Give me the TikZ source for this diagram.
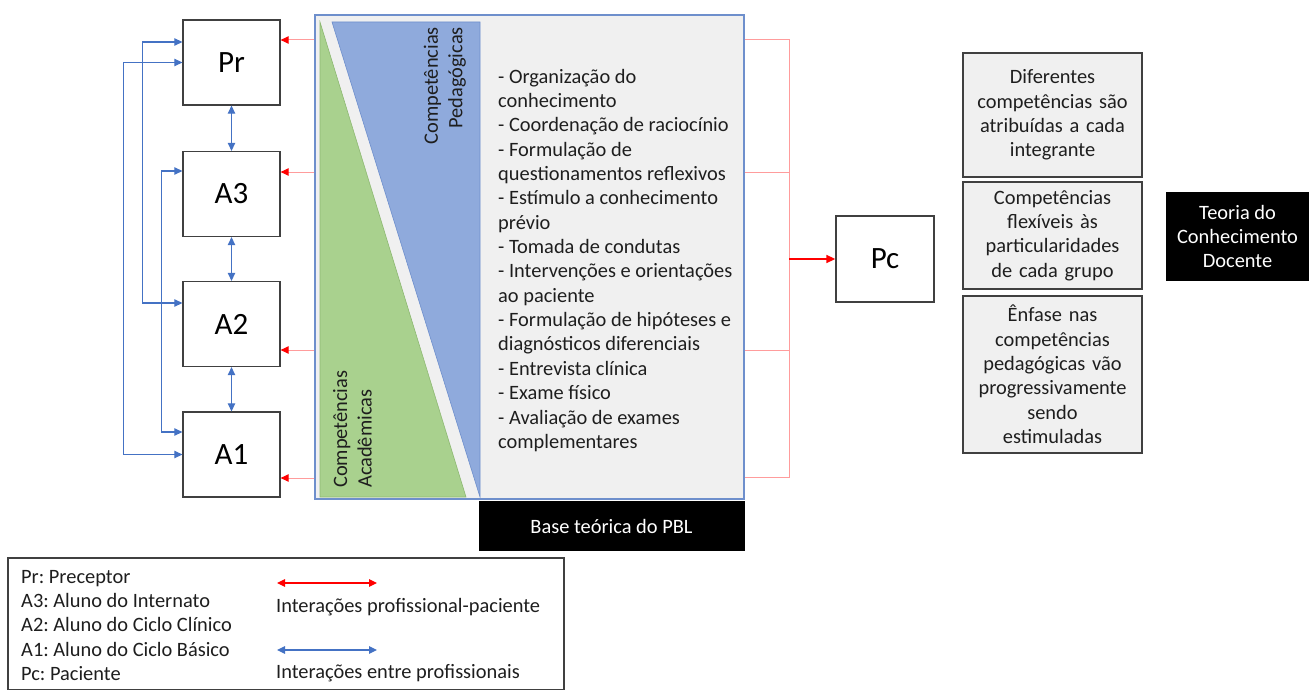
\documentclass[tikz,border=0pt]{standalone}
\usepackage{fontspec}
\setmainfont{Carlito}
\frenchspacing
\usetikzlibrary{arrows.meta}
\definecolor{linkblue}{HTML}{4472C4}
\definecolor{linkred}{HTML}{FF0000}
\definecolor{palered}{HTML}{FF9C9C}
\definecolor{academic}{HTML}{A9D18E}
\definecolor{academicedge}{HTML}{8DB872}
\definecolor{pedagogic}{HTML}{8FAADC}
\definecolor{pedagogicedge}{HTML}{6E8FCC}
\definecolor{panelgray}{HTML}{F0F0F0}
\definecolor{boxedge}{HTML}{404040}
\definecolor{inktext}{HTML}{1E1E1E}
\begin{document}
\begin{tikzpicture}[x=1pt,y=-1pt,
  txt/.style={font=\fontsize{20.4}{24.35}\selectfont, text=inktext},
  actor/.style={draw=boxedge, line width=1.3pt, fill=white, inner sep=0pt,
    minimum width=97pt, minimum height=85pt, font=\fontsize{31}{33}\selectfont, text=black},
  note/.style={txt, draw=boxedge, line width=1.3pt, fill=panelgray, inner sep=0pt,
    minimum width=179pt, text width=174pt, align=center},
  dark/.style={txt, fill=black, text=white, inner sep=0pt, align=center},
  peer/.style={linkblue, line width=1.2pt, {Triangle[length=8pt,width=7.5pt]}-{Triangle[length=8pt,width=7.5pt]}},
  care/.style={palered, line width=1pt, -{Triangle[length=8pt,width=7.5pt,color=linkred]}},
  feed/.style={palered, line width=1pt},
]
\useasboundingbox (0,0) rectangle (1309,690);

% central panel with the two competence wedges
\node[draw=pedagogicedge, line width=1.3pt, fill=panelgray, minimum width=429pt,
  minimum height=484pt, inner sep=0pt] (panel) at (529.5,257) {};
\fill[academic, draw=academicedge, line width=0.6pt] (320,22) -- (320,497) -- (466,497) -- cycle;
\fill[pedagogic, draw=pedagogicedge, line width=0.6pt] (332,22) -- (480,22) -- (480,497) -- cycle;
\node[txt, rotate=90, anchor=south east, align=right, inner sep=0pt] (pedlabel) at (466,27)
  {Competências\\Pedagógicas};
\node[txt, rotate=90, anchor=north west, align=left, inner sep=0pt] (acalabel) at (333,488)
  {Competências\\Acadêmicas};
\node[txt, anchor=north west, align=left, inner sep=0pt] (list) at (498,65.9)
  {\strut- Organização do\\
   conhecimento\\
   - Coordenação de raciocínio\\
   - Formulação de\\
   questionamentos reflexivos\\
   - Estímulo a conhecimento\\
   prévio\\
   - Tomada de condutas\\
   - Intervenções e orientações\\
   ao paciente\\
   - Formulação de hipóteses e\\
   diagnósticos diferenciais\\
   - Entrevista clínica\\
   - Exame físico\\
   - Avaliação de exames\\
   complementares};
\node[dark, minimum width=266pt, minimum height=50pt] (pbl) at (611.5,526) {Base teórica do PBL};

% participants
\node[actor] (Pr) at (231.5,62.5) {Pr};
\node[actor] (A3) at (231.5,194) {A3};
\node[actor] (A2) at (231.5,324) {A2};
\node[actor] (A1) at (231.5,454.5) {A1};
\node[actor, minimum width=98pt, minimum height=86pt] (Pc) at (885,259) {Pc};

% interactions among the group
\draw[peer] (Pr.south) -- (A3.north);
\draw[peer] (A3.south) -- (A2.north);
\draw[peer] (A2.south) -- (A1.north);
\draw[peer] (Pr.west) -- ++(-59,0) |- (A1.west);
\draw[peer] ([yshift=20.5pt]Pr.west) -- ++(-40,0) |- ([yshift=21pt]A2.west);
\draw[peer] ([yshift=23pt]A3.west) -- ++(-21,0) |- ([yshift=22.5pt]A1.west);

% interactions with the patient: panel to each participant
\coordinate (l1) at (panel.west |- 0,40);
\coordinate (l2) at (panel.west |- 0,172);
\coordinate (l3) at (panel.west |- 0,350);
\coordinate (l4) at (panel.west |- 0,478);
\draw[care] (l1) -- (l1 -| Pr.east);
\draw[care] (l2) -- (l2 -| A3.east);
\draw[care] (l3) -- (l3 -| A2.east);
\draw[care] (l4) -- (l4 -| A1.east);

% panel to patient
\coordinate (r1) at (panel.east |- 0,40);
\coordinate (r2) at (panel.east |- 0,172);
\coordinate (r3) at (panel.east |- 0,350);
\coordinate (r4) at (panel.east |- 0,477);
\coordinate (bus) at (789,259);
\draw[feed] (r1) -| (bus |- r4) -- (r4);
\draw[feed] (r2) -- (r2 -| bus);
\draw[feed] (r3) -- (r3 -| bus);
\draw[linkred, line width=1.5pt, -{Triangle[length=9pt,width=8pt]}] (bus) -- (Pc.west);

% observations
\node[note, minimum height=124pt] (n1) at (1052.5,115)
  {Diferentes\\competências são\\atribuídas a cada\\integrante};
\node[note, minimum height=107pt] (n2) at (1052.5,235.5)
  {Competências\\flexíveis às\\particularidades\\de cada grupo};
\node[note, minimum height=157pt] (n3) at (1052.5,374.5)
  {Ênfase nas\\competências\\pedagógicas vão\\progressivamente\\sendo\\estimuladas};
\node[dark, minimum width=143pt, minimum height=89pt] (tcd) at (1237.5,236.5)
  {Teoria do\\Conhecimento\\Docente};

% legend
\node[draw=boxedge, line width=1.3pt, fill=white, minimum width=556pt, minimum height=132pt,
  inner sep=0pt] (legend) at (286,624) {};
\node[txt, anchor=north west, align=left, inner sep=0pt] (keys) at (21,565.9)
  {\strut Pr: Preceptor\\A3: Aluno do Internato\\A2: Aluno do Ciclo Clínico\\A1: Aluno do Ciclo Básico\\Pc: Paciente};
\coordinate (k1a) at (277,583);
\coordinate (k1b) at (377,583);
\coordinate (k2a) at (277,650);
\coordinate (k2b) at (377,650);
\draw[linkred, line width=1.2pt, {Triangle[length=8pt,width=7.5pt]}-{Triangle[length=8pt,width=7.5pt]}] (k1a) -- (k1b);
\draw[peer] (k2a) -- (k2b);
\node[txt, anchor=base west, inner sep=0pt] (k1t) at (276,612) {Interações profissional-paciente};
\node[txt, anchor=base west, inner sep=0pt] (k2t) at (276,678) {Interações entre profissionais};
\end{tikzpicture}
\end{document}
